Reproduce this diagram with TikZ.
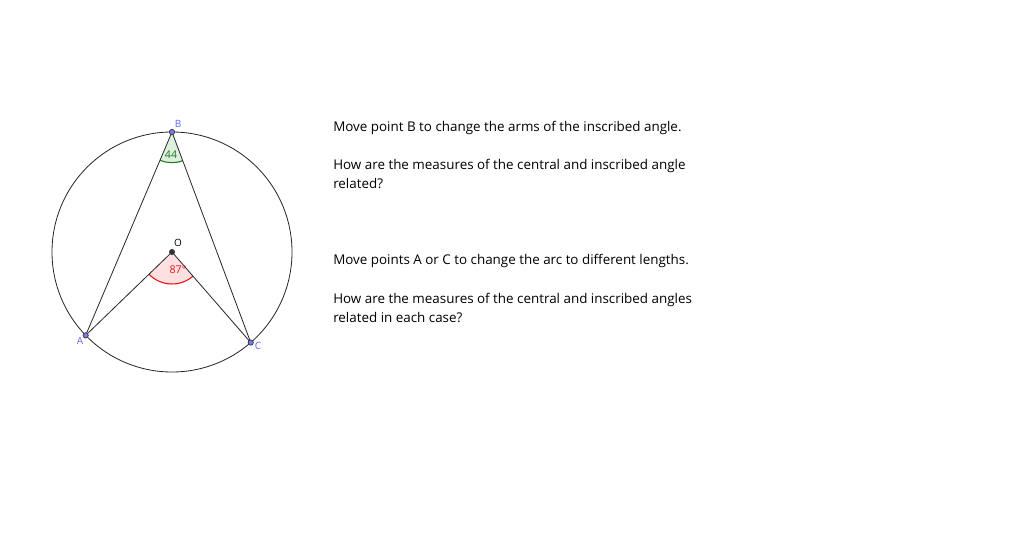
\documentclass[tikz,border=0pt]{standalone}
\usepackage{fontspec}
\setmainfont{Open Sans}
\usetikzlibrary{calc}
\definecolor{ptblue}{HTML}{6464FF}
\definecolor{ptfill}{HTML}{7777EE}
\definecolor{angred}{HTML}{E81010}
\definecolor{angredfill}{HTML}{FFE0E0}
\definecolor{anggreen}{HTML}{1F7A1F}
\definecolor{anggreenfill}{HTML}{DDEFDD}
\begin{document}
\begin{tikzpicture}[x=0.75pt,y=-0.75pt,
  txt/.style={anchor=base west,inner sep=0pt,font=\fontsize{10.05pt}{12pt}\selectfont},
  ptlabel/.style={inner sep=0pt,text=ptblue,font=\fontsize{7.5pt}{8pt}\selectfont},
  pt/.style={circle,draw=black!80,fill=ptfill,inner sep=0pt,minimum size=4pt,line width=0.5pt},
  seg/.style={draw=black!85,line width=0.6pt}]
\useasboundingbox (0,0) rectangle (1024,538);
\fill[white] (0,0) rectangle (1024,538);
\coordinate (O) at (172,252);
\coordinate (A) at ($(O)+(224:90pt)$);
\coordinate (B) at ($(O)+(90:90pt)$);
\coordinate (C) at ($(O)+(311:90pt)$);
% angle sectors
\fill[angredfill] (O) -- ($(O)+(224:24pt)$) arc[start angle=224,end angle=311,radius=24pt] -- cycle;
\draw[angred,line width=0.8pt] ($(O)+(224:24pt)$) arc[start angle=224,end angle=311,radius=24pt];
\fill[anggreenfill] (B) -- ($(B)+(247:23pt)$) arc[start angle=247,end angle=290.5,radius=23pt] -- cycle;
\draw[anggreen,line width=0.8pt] ($(B)+(247:23pt)$) arc[start angle=247,end angle=290.5,radius=23pt];
% circle and segments
\draw[seg] (O) circle[radius=90pt];
\draw[seg] (A) -- (B) -- (C);
\draw[seg] (A) -- (O) -- (C);
% angle labels
\node[text=angred,inner sep=0pt,font=\fontsize{8pt}{9pt}\selectfont] (l87) at (178,270) {87°};
\node[text=anggreen,inner sep=0pt,font=\fontsize{8pt}{9pt}\selectfont] (l44) at (171,155) {44};
% points
\node[circle,fill=black!80,inner sep=0pt,minimum size=4.5pt] (Op) at (O) {};
\node[pt] (Ap) at (A) {};
\node[pt] (Bp) at (B) {};
\node[pt] (Cp) at (C) {};
\node[inner sep=0pt,font=\fontsize{7.5pt}{8pt}\selectfont] (Ol) at (178,243) {O};
\node[ptlabel] (Al) at (80,341) {A};
\node[ptlabel] (Bl) at (178,124) {B};
\node[ptlabel] (Cl) at (258,346) {C};
% text
\node[txt] (t1) at (333,132) {Move point B to change the arms of the inscribed angle.};
\node[txt] (t2) at (333,170) {How are the measures of the central and inscribed angle};
\node[txt] (t3) at (333,189) {related?};
\node[txt] (t4) at (333,265) {Move points A or C to change the arc to different lengths.};
\node[txt] (t5) at (333,303) {How are the measures of the central and inscribed angles};
\node[txt] (t6) at (333,322) {related in each case?};
\end{tikzpicture}
\end{document}
